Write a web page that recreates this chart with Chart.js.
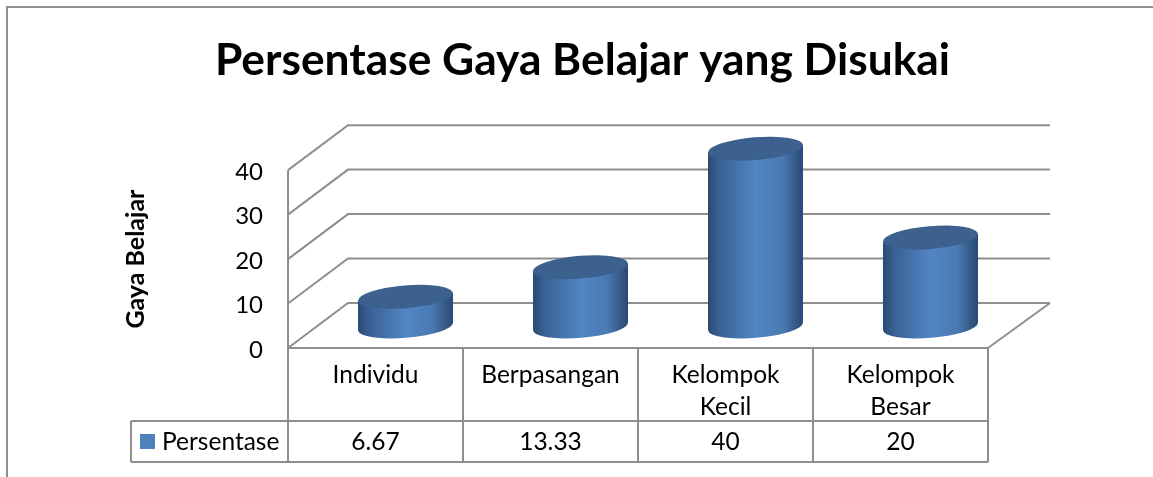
<!DOCTYPE html>
<html>
<head>
<meta charset="utf-8">
<title>Persentase Gaya Belajar yang Disukai</title>
<script src="https://cdn.jsdelivr.net/npm/chart.js@4/dist/chart.umd.min.js"></script>
<style>
    html, body { margin: 0; padding: 0; background: #fff; overflow: hidden; }
    canvas { display: block; }
</style>
</head>
<body>
<canvas id="gaya-chart" width="1153" height="477"></canvas>
<script>
const chartTitle = "Persentase Gaya Belajar yang Disukai";
const axisTitle = "Gaya Belajar";
const seriesName = "Persentase";
const categories = ["Individu", "Berpasangan", ["Kelompok", "Kecil"], ["Kelompok", "Besar"]];
const seriesValues = [6.67, 13.33, 40, 20];
const yTicks = [0, 10, 20, 30, 40];

const FONT = "Lato, Carlito, sans-serif";
const LINE = "#8e8e8e";
const DEPTH_X = 60;
const DEPTH_Y = 45;
const TABLE_ROW_TOP = 421;
const TABLE_BOTTOM = 462;
const KEY_LEFT = 131;

function line(ctx, points, width) {
    ctx.beginPath();
    ctx.moveTo(points[0][0], points[0][1]);
    points.slice(1).forEach(p => ctx.lineTo(p[0], p[1]));
    ctx.lineWidth = width;
    ctx.strokeStyle = LINE;
    ctx.stroke();
}

// le titre est centré sur toute la largeur, pas sur la zone du graphique
const titlePlacementPlugin = {
    id: "titlePlacement",
    afterLayout(chart) {
        chart.titleBlock.left = 12;
        chart.titleBlock.right = chart.width;
    },
};

// cadre du graphique et murs en perspective
const wallsPlugin = {
    id: "walls",
    beforeDatasetsDraw(chart) {
        const { ctx, chartArea, scales } = chart;
        ctx.save();
        line(ctx, [[7, 477], [7, 7], [1153, 7]], 2);
        yTicks.forEach(t => {
            const y = scales.y.getPixelForValue(t);
            line(ctx, [[chartArea.left, y], [chartArea.left + DEPTH_X, y - DEPTH_Y], [chartArea.right + DEPTH_X + 2, y - DEPTH_Y]], 2);
        });
        const y0 = scales.y.getPixelForValue(0);
        line(ctx, [[chartArea.right, y0], [chartArea.right + DEPTH_X + 2, y0 - DEPTH_Y]], 2);
        line(ctx, [[chartArea.left, scales.y.getPixelForValue(40)], [chartArea.left, y0]], 2);
        ctx.restore();
    },
};

function drawCylinder(ctx, bar) {
    const a = bar.width / 2;
    const b = 11.4;
    const rot = -4.65 * Math.PI / 180;
    const tilt = 3.65;
    const cx = bar.x + DEPTH_X / 2;
    const top = bar.y - DEPTH_Y / 2 + 1;
    const bottom = bar.base - DEPTH_Y / 2 + 1;

    const grad = ctx.createLinearGradient(cx - a, 0, cx + a, 0);
    grad.addColorStop(0, "#2a4a75");
    grad.addColorStop(0.12, "#3a6193");
    grad.addColorStop(0.5, "#5285c6");
    grad.addColorStop(0.78, "#4a7ab2");
    grad.addColorStop(0.92, "#355a88");
    grad.addColorStop(1, "#2a4a75");

    ctx.fillStyle = grad;
    ctx.beginPath();
    ctx.ellipse(cx, bottom, a, b, rot, 0, Math.PI * 2);
    ctx.fill();
    ctx.beginPath();
    ctx.moveTo(cx - a, top + tilt);
    ctx.lineTo(cx + a, top - tilt);
    ctx.lineTo(cx + a, bottom - tilt);
    ctx.lineTo(cx - a, bottom + tilt);
    ctx.closePath();
    ctx.fill();

    ctx.fillStyle = "#3c618f";
    ctx.beginPath();
    ctx.ellipse(cx, top, a, b, rot, 0, Math.PI * 2);
    ctx.fill();
}

const cylinderPlugin = {
    id: "cylinders",
    afterDatasetsDraw(chart) {
        chart.getDatasetMeta(0).data.forEach(bar => drawCylinder(chart.ctx, bar));
    },
};

// table de données sous le graphique
const dataTablePlugin = {
    id: "dataTable",
    afterDraw(chart) {
        const { ctx, chartArea, scales } = chart;
        const y0 = scales.y.getPixelForValue(0);
        const step = (chartArea.right - chartArea.left) / categories.length;
        ctx.save();
        line(ctx, [[chartArea.left, y0], [chartArea.right, y0]], 2);
        for (let i = 0; i <= categories.length; i++) {
            const x = chartArea.left + i * step;
            line(ctx, [[x, y0], [x, TABLE_BOTTOM]], 2);
        }
        line(ctx, [[KEY_LEFT, TABLE_ROW_TOP], [chartArea.right, TABLE_ROW_TOP]], 2);
        line(ctx, [[KEY_LEFT, TABLE_BOTTOM], [chartArea.right, TABLE_BOTTOM]], 2);
        line(ctx, [[KEY_LEFT, TABLE_ROW_TOP], [KEY_LEFT, TABLE_BOTTOM]], 2);

        const baseline = 450;
        ctx.fillStyle = "#4f81bd";
        ctx.fillRect(140, 434, 15, 15);
        ctx.fillStyle = "#000";
        ctx.font = "24.5px " + FONT;
        ctx.textBaseline = "alphabetic";
        ctx.textAlign = "left";
        ctx.fillText(seriesName, 162, baseline);
        ctx.textAlign = "center";
        seriesValues.forEach((v, i) => {
            ctx.fillText(String(v), scales.x.getPixelForTick(i), baseline);
        });
        ctx.restore();
    },
};

new Chart(document.getElementById("gaya-chart"), {
    type: "bar",
    data: {
        labels: categories,
        datasets: [{
            label: seriesName,
            data: seriesValues,
            backgroundColor: "transparent",
            barPercentage: 95 / 175,
            categoryPercentage: 1,
        }],
    },
    options: {
        responsive: false,
        animation: false,
        layout: { padding: { left: 12, right: 165, top: 0, bottom: 0 } },
        plugins: {
            legend: { display: false },
            tooltip: { enabled: false },
            title: {
                display: true,
                text: chartTitle,
                color: "#000",
                font: { family: FONT, size: 44.3, weight: "bold" },
                padding: { top: 34, bottom: 83 },
            },
        },
        scales: {
            x: {
                grid: { display: false, drawTicks: false },
                border: { display: false },
                afterFit(scale) { scale.height = 129; },
                ticks: {
                    color: "#000",
                    font: { family: FONT, size: 24.5, lineHeight: 1.31 },
                    padding: 11,
                    maxRotation: 0,
                    autoSkip: false,
                },
            },
            y: {
                min: 0,
                max: 40,
                grid: { display: false, drawTicks: false },
                border: { display: false },
                afterFit(scale) { scale.width = 276; },
                afterBuildTicks(scale) { scale.ticks = yTicks.map(v => ({ value: v })); },
                ticks: {
                    color: "#000",
                    font: { family: FONT, size: 24, lineHeight: "4px" },
                    padding: 25,
                    // ligne vide pour descendre le chiffre de 2px
                    callback: v => ["", String(v)],
                },
                title: {
                    display: true,
                    text: axisTitle,
                    color: "#000",
                    font: { family: FONT, size: 25, weight: "bold" },
                    padding: { top: 109, bottom: 0 },
                },
            },
        },
    },
    plugins: [titlePlacementPlugin, wallsPlugin, cylinderPlugin, dataTablePlugin],
});
</script>
</body>
</html>
